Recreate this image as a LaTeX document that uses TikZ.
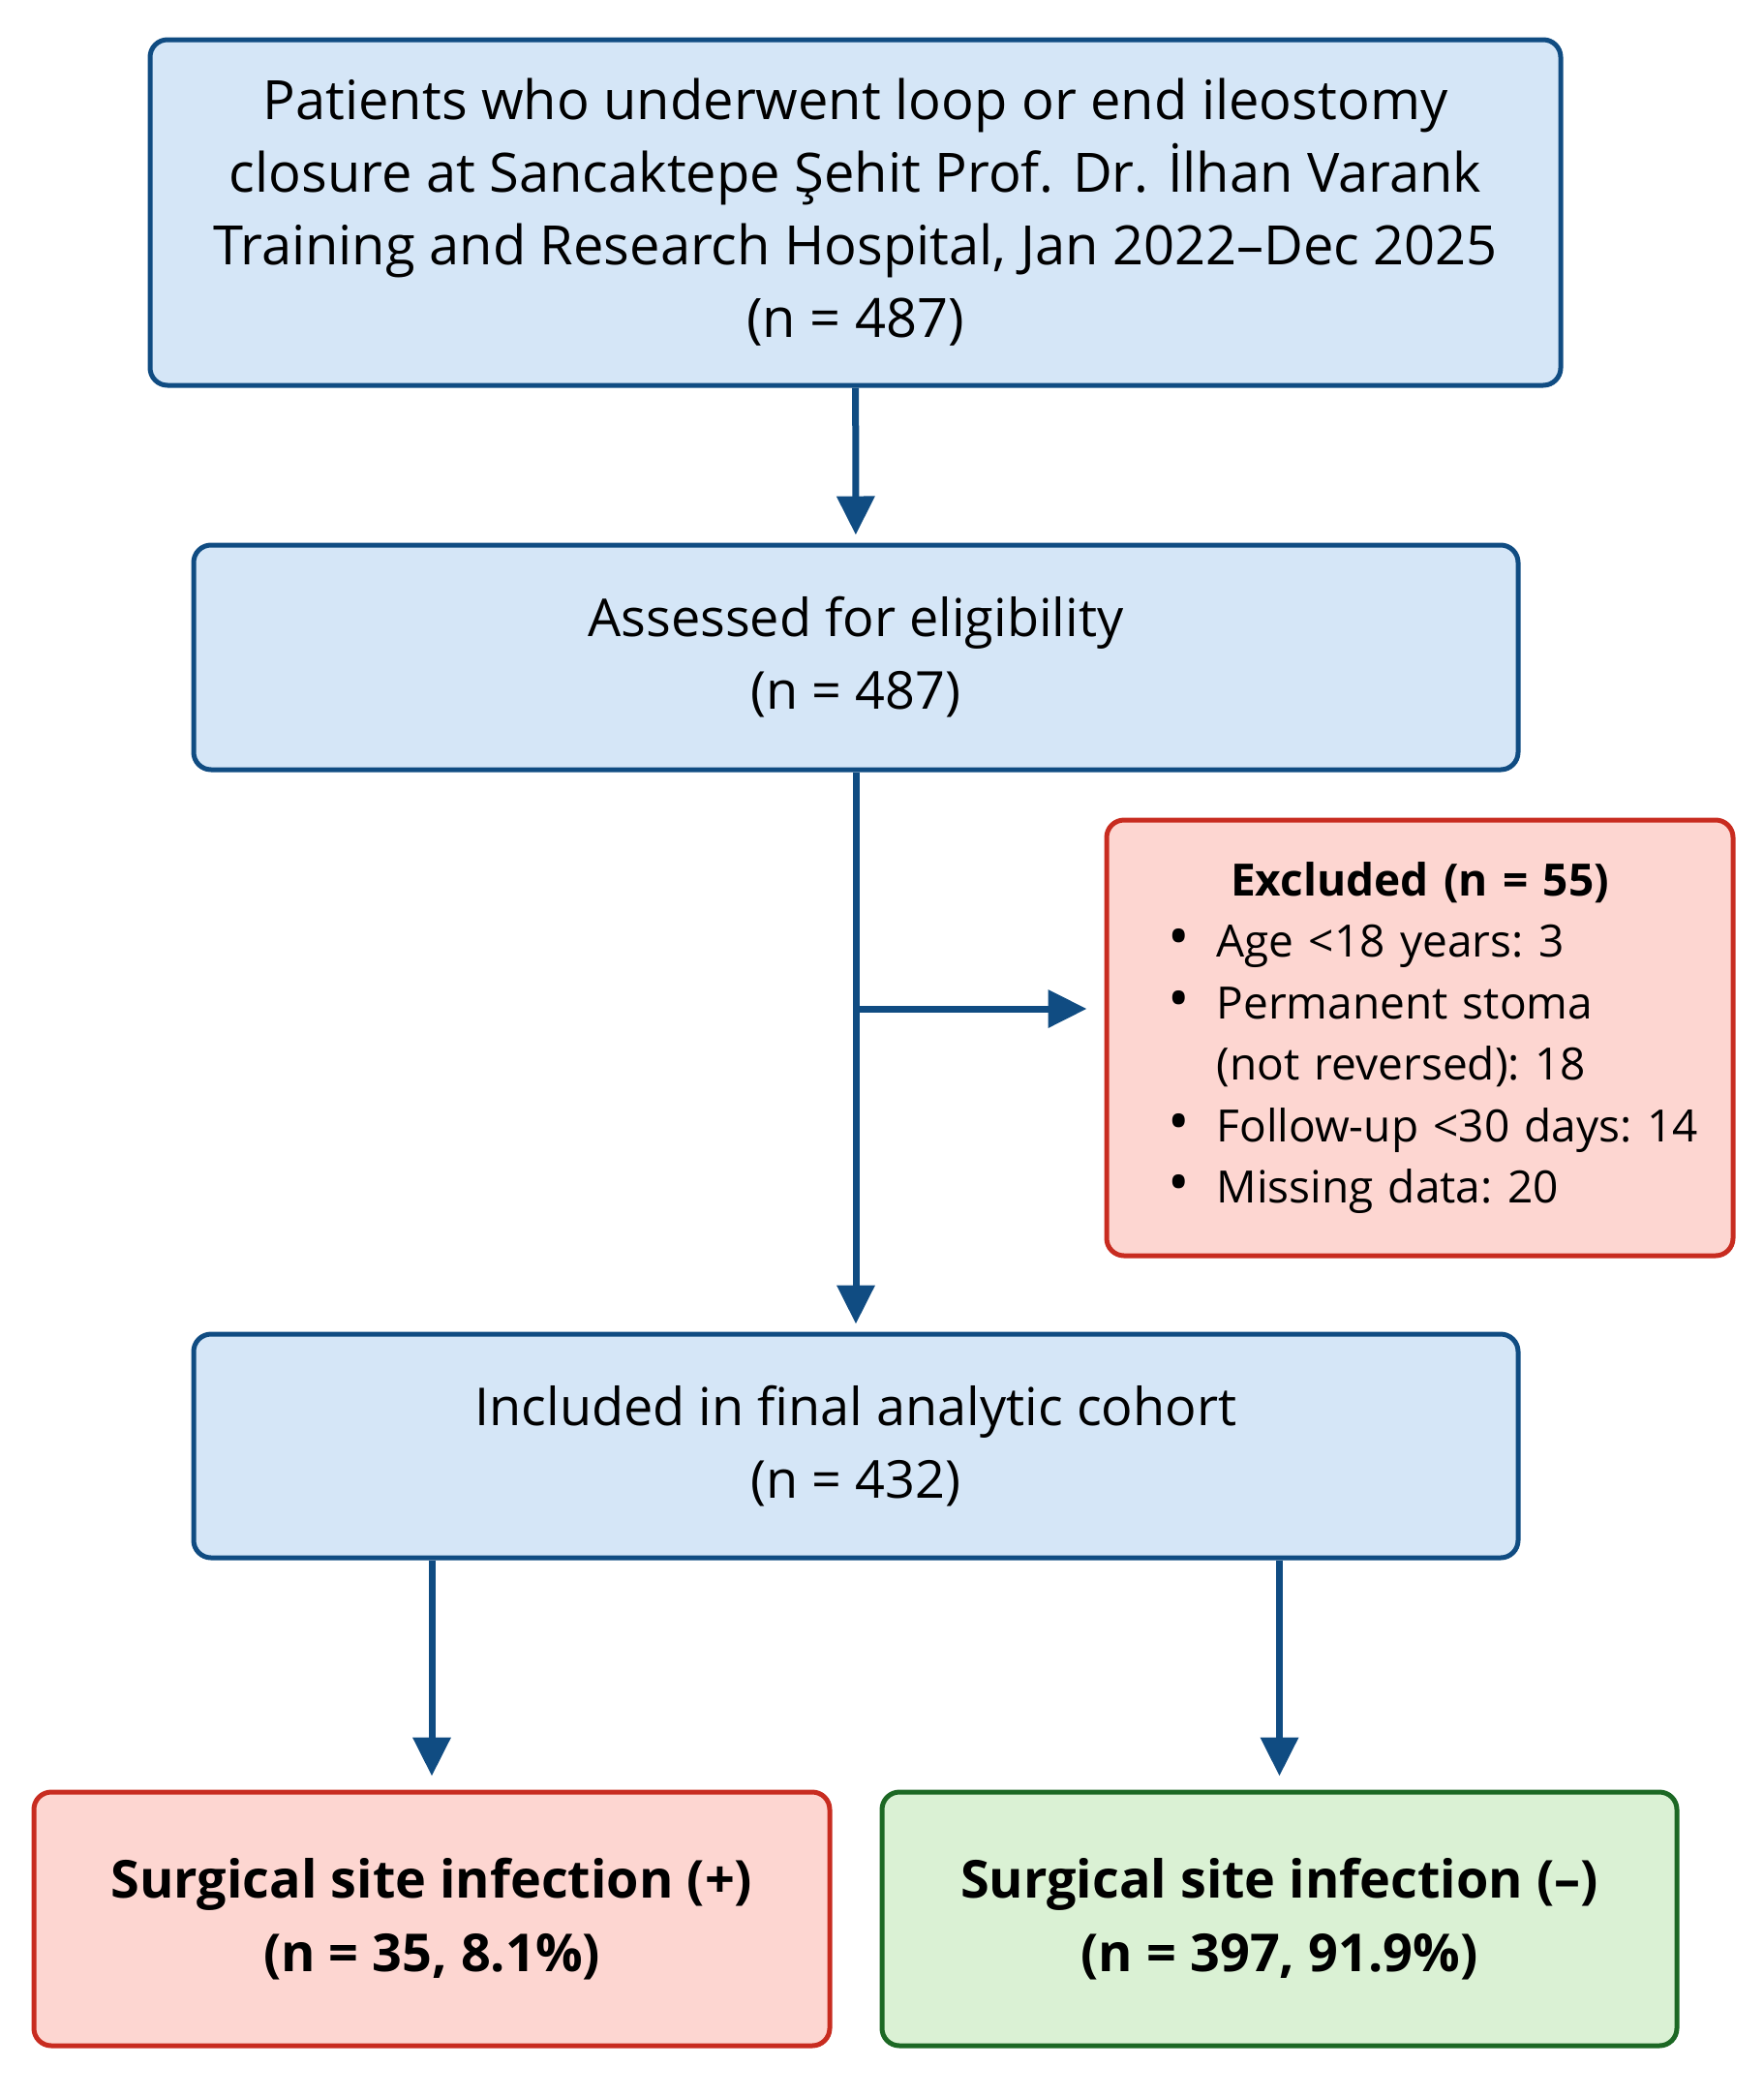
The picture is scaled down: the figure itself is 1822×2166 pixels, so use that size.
\documentclass[tikz,border=0pt]{standalone}
\usepackage{fontspec}
\setmainfont{Open Sans}
\usetikzlibrary{arrows.meta,positioning}

\definecolor{boxblue}{RGB}{213,230,247}
\definecolor{lineblue}{RGB}{16,76,130}
\definecolor{boxred}{RGB}{253,214,209}
\definecolor{linered}{RGB}{200,44,32}
\definecolor{boxgreen}{RGB}{218,241,212}
\definecolor{linegreen}{RGB}{28,104,36}

\begin{document}
\begin{tikzpicture}[x=1pt,y=-1pt,
    bluebox/.style={draw=lineblue, fill=boxblue, line width=5pt, rounded corners=18pt,
        align=center, inner sep=0pt, font=\fontsize{54}{75}\selectfont},
    redbox/.style={bluebox, draw=linered, fill=boxred},
    greenbox/.style={bluebox, draw=linegreen, fill=boxgreen},
    flow/.style={draw=lineblue, line width=7pt, -{Triangle[length=40pt,width=38pt]}}]
    \newcommand{\exitem}[1]{%
        \par\hangindent=80pt\hangafter=1\noindent\hspace*{30pt}\makebox[50pt][l]{\scalebox{1.3}{\textbullet}}#1}

    \useasboundingbox (0,0) rectangle (1822,2166);

    \node[bluebox, minimum width=1457, minimum height=357,
        font=\fontsize{56}{75}\selectfont] (pop) at (883.5,219.5)
        {Patients who underwent loop or end ileostomy\\
         closure at Sancaktepe Şehit Prof. Dr. İlhan Varank\\
         Training and Research Hospital, Jan 2022–Dec 2025\\
         (n = 487)};
    \node[bluebox, minimum width=1368, minimum height=232] (elig) at (884,679)
        {Assessed for eligibility\\(n = 487)};
    \node[redbox, minimum width=647, minimum height=450, text width=580,
        font=\fontsize{46}{63.5}\selectfont\frenchspacing] (excl) at (1466.5,1072)
        {\centering\textbf{Excluded (n = 55)}\par\raggedright
         \exitem{Age <18 years: 3}
         \exitem{Permanent stoma\newline (not reversed): 18}
         \exitem{\mbox{Follow-up <30 days: 14}}
         \exitem{Missing data: 20}\par};
    \node[bluebox, minimum width=1368, minimum height=231] (incl) at (884,1493.5)
        {Included in final analytic cohort\\(n = 432)};
    \node[redbox, minimum width=822, minimum height=262,
        font=\fontsize{54}{76}\selectfont\bfseries] (pos) at (446,1982)
        {Surgical site infection (+)\\(n = 35, 8.1\%)};
    \node[greenbox, minimum width=821, minimum height=262,
        font=\fontsize{54}{76}\selectfont\bfseries] (neg) at (1321.5,1982)
        {Surgical site infection (–)\\(n = 397, 91.9\%)};

    \coordinate (split) at (884,1042);

    \draw[flow, shorten >=8pt] (pop) -- (elig);
    \draw[flow, shorten >=8pt] (elig) -- (incl);
    \draw[flow, shorten >=18pt] (split) -- (split -| excl.west);
    \draw[flow, shorten >=14pt] (incl.south -| pos.north) -- (pos.north);
    \draw[flow, shorten >=14pt] (incl.south -| neg.north) -- (neg.north);
\end{tikzpicture}
\end{document}
